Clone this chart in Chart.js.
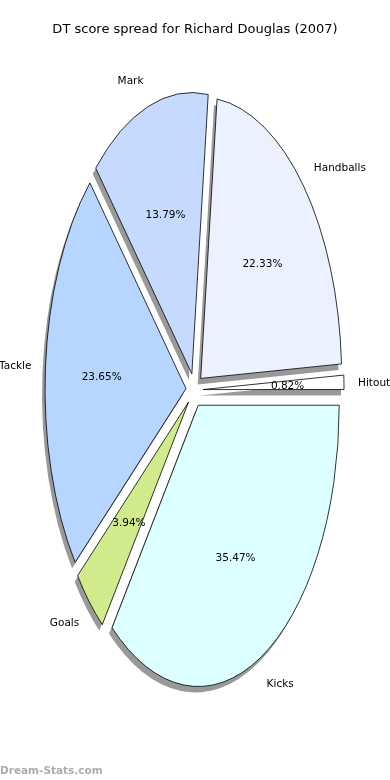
<!DOCTYPE html>
<html>
<head>
<meta charset="utf-8">
<script src="https://cdn.jsdelivr.net/npm/chart.js@4"></script>
<style>
  html, body { margin: 0; padding: 0; background: #fff; }
  #wrap { position: relative; width: 390px; height: 780px; }
</style>
</head>
<body>
<div id="wrap"><canvas id="pieChart" width="390" height="780"></canvas></div>
<script>
// matplotlib order (counter-clockwise from 3 o'clock)
const categories = ["Hitout", "Handballs", "Mark", "Tackle", "Goals", "Kicks"];
const shares = [0.82, 22.33, 13.79, 23.65, 3.94, 35.47];
const pctLabels = ["0.82%", "22.33%", "13.79%", "23.65%", "3.94%", "35.47%"];
const sliceColors = ["#ffffff", "#ebf1ff", "#c6daff", "#b6d5ff", "#d0eb8c", "#dcffff"];

const titleText = "DT score spread for Richard Douglas (2007)";
const watermark = "Dream-Stats.com";

const RX = 141;      // horizontal radius
const SQUASH = 1.995; // vertical stretch of the pie
const EXPLODE = 8.5; // explode distance (x units)

// chart.js goes clockwise on screen, so reverse the order
const rev = (a) => a.slice().reverse();

const ellipsePlugin = {
    id: 'ellipse',
    // draw the arcs ourselves: stretched, exploded, with a drop shadow
    beforeDatasetDraw(chart, args) {
        const ctx = chart.ctx;
        const arcs = args.meta.data;
        const cx = arcs[0].x, cy = arcs[0].y;
        const dpr = chart.currentDevicePixelRatio;
        const origStroke = ctx.stroke;
        ctx.stroke = function () {
            this.save();
            this.setTransform(dpr, 0, 0, dpr, 0, 0);
            this.shadowColor = 'rgba(0,0,0,0)';
            origStroke.apply(this, arguments);
            this.restore();
        };
        arcs.forEach((a) => {
            const mid = (a.startAngle + a.endAngle) / 2;
            ctx.save();
            ctx.translate(cx, cy);
            ctx.scale(1, SQUASH);
            ctx.translate(-cx + Math.cos(mid) * EXPLODE, -cy + Math.sin(mid) * EXPLODE);
            ctx.shadowColor = 'rgba(0,0,0,0.4)';
            ctx.shadowBlur = 0;
            ctx.shadowOffsetX = -3;
            ctx.shadowOffsetY = 6;
            a.draw(ctx);
            ctx.restore();
        });
        delete ctx.stroke;
        return false;
    },
    afterDatasetsDraw(chart) {
        const ctx = chart.ctx;
        const meta = chart.getDatasetMeta(0);
        const names = rev(categories);
        const pcts = rev(pctLabels);
        ctx.save();
        ctx.fillStyle = '#000';
        ctx.textBaseline = 'middle';
        ctx.font = '10.5px "DejaVu Sans"';
        meta.data.forEach((a, i) => {
            const mid = (a.startAngle + a.endAngle) / 2;
            const c = Math.cos(mid), s = Math.sin(mid);
            const r1 = 1.1 * a.outerRadius + EXPLODE;
            ctx.textAlign = c > 0 ? 'left' : 'right';
            ctx.fillText(names[i], a.x + c * r1, a.y + s * r1 * SQUASH + 1.5);
            const r2 = 0.6 * a.outerRadius + EXPLODE;
            ctx.textAlign = 'center';
            ctx.fillText(pcts[i], a.x + c * r2, a.y + s * r2 * SQUASH + 1.5);
        });

        ctx.font = '13px "DejaVu Sans"';
        ctx.textAlign = 'center';
        ctx.fillText(titleText, 195, 30);

        ctx.font = 'bold 10.5px "DejaVu Sans"';
        ctx.fillStyle = '#acacac';
        ctx.textAlign = 'left';
        ctx.fillText(watermark, 0, 771);
        ctx.restore();
    }
};

new Chart(document.getElementById('pieChart'), {
    type: 'pie',
    data: {
        labels: rev(categories),
        datasets: [{
            data: rev(shares),
            backgroundColor: rev(sliceColors),
            borderColor: '#000000',
            borderWidth: 0.8,
            radius: RX,
            clip: false
        }]
    },
    options: {
        responsive: false,
        animation: false,
        events: [],
        rotation: 90,
        layout: { padding: { right: 1, bottom: 0 } },
        plugins: {
            legend: { display: false },
            tooltip: { enabled: false },
            title: { display: false }
        }
    },
    plugins: [ellipsePlugin]
});
</script>
</body>
</html>
